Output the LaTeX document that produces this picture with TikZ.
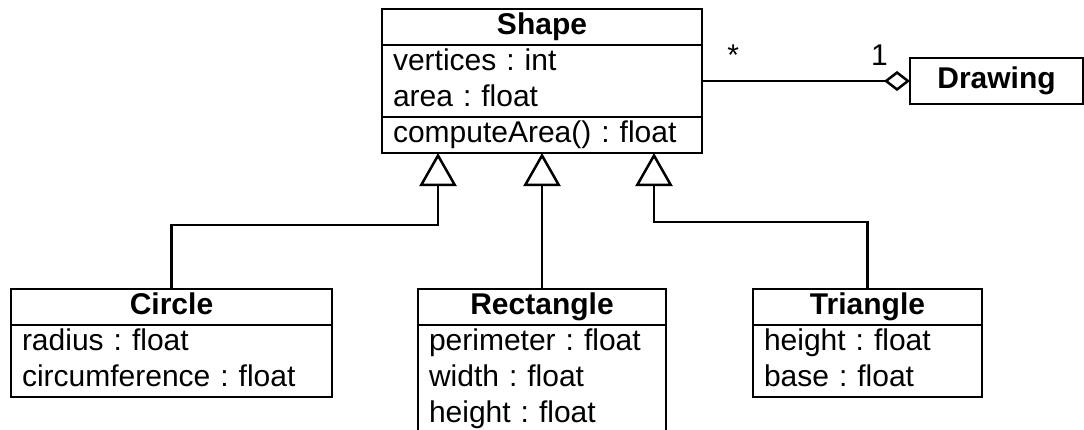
\documentclass[tikz,border=0pt]{standalone}
\usepackage{fontspec}
\setmainfont{Liberation Sans}
\usetikzlibrary{positioning, arrows.meta}
\tikzset{
classname/.style={draw, line width=2.5pt, font=\bfseries, inner sep=0pt, outer sep=0pt, execute at begin node=\strut}, % top part of a class box: its name
classpart/.style={draw, line width=2.5pt, align=left, inner xsep=11pt, inner ysep=0pt, outer sep=0pt, execute at begin node=\strut, execute at end node=\strut}, % attributes or operations of a class
link/.style={line width=2.5pt}, % plain connector
gen/.style={link, -{Triangle[open, length=33pt, width=37pt]}}, % generalization, hollow triangle
aggr/.style={link, -{Diamond[open, length=26pt, width=20pt]}}, % aggregation, hollow diamond
}
\begin{document}
\frenchspacing
\fontsize{30}{36}\selectfont
\begin{tikzpicture}[x=1pt, y=-1pt]
\useasboundingbox (0,0) rectangle (1084,429);
\clip (0,0) rectangle (1084,429);

\node[classname, minimum width=320pt, anchor=north] (shape) at (542,9) {Shape};
\node[classpart, text width=298pt, below=0pt of shape] (shapeattr) {vertices : int\\area : float};
\node[classpart, text width=298pt, below=0pt of shapeattr] (shapeop) {computeArea() : float};

\node[classname, minimum width=173pt, minimum height=46pt] (drawing) at (996.5,81) {Drawing};

\node[classname, minimum width=321pt, anchor=north] (circle) at (171.5,289) {Circle};
\node[classpart, text width=299pt, below=0pt of circle] (circleattr) {radius : float\\circumference : float};
\node[classname, minimum width=248pt, anchor=north] (rect) at (542,289) {Rectangle};
\node[classpart, text width=226pt, below=0pt of rect] (rectattr) {perimeter : float\\width : float\\height : float};
\node[classname, minimum width=229pt, anchor=north] (triangle) at (867.5,289) {Triangle};
\node[classpart, text width=207pt, below=0pt of triangle] (triangleattr) {height : float\\base : float};

\coordinate (gcircle) at (438,153);
\coordinate (gtriangle) at (654,153);

\draw[gen] (circle.north) -- ++(0,-64) -| (gcircle);
\draw[gen] (rect.north) -- (shapeop.south);
\draw[gen] (triangle.north) -- ++(0,-67) -| (gtriangle);

\draw[aggr] (shapeattr.east) -- node[pos=0, anchor=base west, xshift=14pt, yshift=16pt] {*}
  node[pos=1, anchor=base east, xshift=-11pt, yshift=16pt] {1} (drawing.west);
\end{tikzpicture}
\end{document}
